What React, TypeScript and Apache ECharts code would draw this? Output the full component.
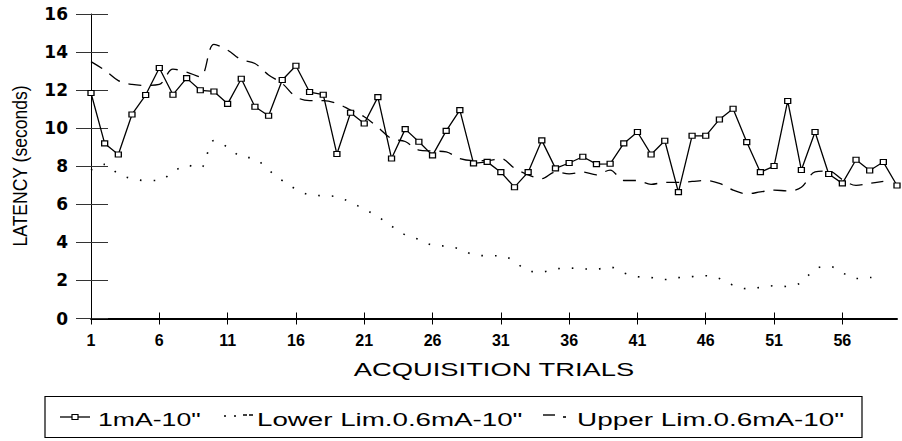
import React, { useEffect, useRef } from "react";
import * as echarts from "echarts";

// Categories: acquisition trial numbers
const trials: string[] = Array.from({ length: 60 }, (_, i) => String(i + 1));

// Series values (latency in seconds)
const latency1mA: number[] = [
  11.85, 9.2, 8.62, 10.72, 11.74, 13.16, 11.76, 12.63, 11.99, 11.93,
  11.28, 12.6, 11.13, 10.65, 12.53, 13.28, 11.9, 11.76, 8.64, 10.81,
  10.25, 11.63, 8.41, 9.95, 9.29, 8.57, 9.86, 10.95, 8.15, 8.23,
  7.69, 6.9, 7.69, 9.36, 7.89, 8.17, 8.5, 8.11, 8.13, 9.2,
  9.8, 8.62, 9.34, 6.64, 9.6, 9.6, 10.46, 11.02, 9.27, 7.69,
  8.01, 11.43, 7.8, 9.8, 7.59, 7.1, 8.34, 7.78, 8.22, 6.99,
];

const lowerLim: number[] = [
  7.8, 8.1, 7.6, 7.35, 7.25, 7.25, 7.7, 8.05, 7.9, 9.35,
  9.0, 8.5, 8.4, 7.8, 7.25, 6.8, 6.5, 6.45, 6.4, 6.1,
  5.75, 5.35, 4.85, 4.4, 4.15, 3.85, 3.8, 3.65, 3.35, 3.3,
  3.3, 3.0, 2.5, 2.45, 2.6, 2.65, 2.6, 2.6, 2.7, 2.4,
  2.2, 2.15, 2.05, 2.15, 2.2, 2.25, 2.1, 1.75, 1.57, 1.63,
  1.72, 1.68, 1.9, 2.6, 2.75, 2.4, 2.1, 2.15, 2.2,
];

const upperLim: number[] = [
  13.5, 13.05, 12.5, 12.3, 12.25, 12.3, 13.1, 12.95, 12.7, 14.4,
  14.1, 13.6, 13.4, 12.8, 12.35, 11.65, 11.45, 11.45, 11.3, 10.95,
  10.6, 10.05, 9.45, 9.3, 8.85, 8.8, 8.75, 8.4, 8.3, 8.3,
  8.4, 7.9, 7.55, 7.35, 7.7, 7.6, 7.7, 7.55, 7.8, 7.25,
  7.25, 7.05, 7.15, 7.15, 7.2, 7.25, 7.1, 6.75, 6.55, 6.65,
  6.75, 6.7, 6.9, 7.7, 7.75, 7.3, 7.0, 7.1, 7.2,
];

const seriesNames: string[] = ['1mA-10"', 'Lower Lim.0.6mA-10"', 'Upper Lim.0.6mA-10"'];
const xTitle = "ACQUISITION TRIALS";
const yTitle = "LATENCY (seconds)";
const yMin = 0;
const yMax = 16;
const yStep = 2;

const FONT = '"Liberation Sans", Arial, sans-serif';

function txt(text: string, x: number, y: number, size: number, scaleX: number, align: string, extra: any = {}) {
  return {
    type: "text",
    x,
    y,
    scaleX,
    ...extra,
    style: {
      text,
      fill: "#000",
      fontSize: size,
      fontFamily: FONT,
      textAlign: align,
      textVerticalAlign: "middle",
      align,
      verticalAlign: "middle",
    },
  };
}

export default function App() {
  const ref = useRef<HTMLDivElement>(null);

  useEffect(() => {
    if (!ref.current) return;
    const chart = echarts.init(ref.current, undefined, { renderer: "svg" });

    const option: any = {
      animation: false,
      backgroundColor: "#ffffff",
      grid: { left: 91, right: 5, top: 14, bottom: 122.5, containLabel: false },
      xAxis: [
        {
          type: "category",
          data: trials,
          boundaryGap: false,
          position: "bottom",
          axisLine: { show: true, onZero: false, lineStyle: { color: "#000", width: 2 } },
          axisTick: { show: true, interval: 4, length: 6, inside: false, lineStyle: { color: "#000", width: 1 } },
          axisLabel: {
            interval: 4,
            margin: 14,
            color: "#000",
            fontFamily: FONT,
            fontWeight: "bold",
            fontSize: 16,
          },
          splitLine: { show: false },
        },
        {
          type: "category",
          data: trials,
          boundaryGap: false,
          position: "bottom",
          offset: 0,
          axisLine: { show: false },
          axisTick: { show: true, interval: 4, length: 6, inside: true, lineStyle: { color: "#000", width: 1 } },
          axisLabel: { show: false },
          splitLine: { show: false },
        },
      ],
      yAxis: [
        {
          type: "value",
          min: yMin,
          max: yMax,
          interval: yStep,
          position: "left",
          axisLine: { show: true, onZero: false, lineStyle: { color: "#000", width: 1 } },
          axisTick: { show: true, length: 15, lineStyle: { color: "#333", width: 1 } },
          axisLabel: {
            margin: 23,
            color: "#000",
            fontFamily: '"DejaVu Sans", sans-serif',
            fontWeight: "bold",
            fontSize: 17,
          },
          splitLine: { show: false },
        },
        {
          type: "value",
          min: yMin,
          max: yMax,
          interval: yStep,
          position: "left",
          offset: 0,
          axisLine: { show: false },
          axisTick: { show: true, inside: true, length: 17, lineStyle: { color: "#333", width: 1 } },
          axisLabel: { show: false },
          splitLine: { show: false },
        },
      ],
      series: [
        {
          name: seriesNames[1],
          type: "line",
          data: lowerLim,
          xAxisIndex: 0,
          yAxisIndex: 0,
          smooth: 0.35,
          symbol: "none",
          showSymbol: false,
          lineStyle: { color: "#000", width: 1.6, type: [1.6, 12] },
          z: 2,
        },
        {
          name: seriesNames[2],
          type: "line",
          data: upperLim,
          xAxisIndex: 0,
          yAxisIndex: 0,
          smooth: 0.35,
          symbol: "none",
          showSymbol: false,
          lineStyle: { color: "#000", width: 1.3, type: [13, 9] },
          z: 2,
        },
        {
          name: seriesNames[0],
          type: "line",
          data: latency1mA,
          xAxisIndex: 0,
          yAxisIndex: 0,
          symbol: "rect",
          symbolSize: [6, 5],
          showSymbol: true,
          lineStyle: { color: "#000", width: 1.3 },
          itemStyle: { color: "#fff", borderColor: "#000", borderWidth: 1.2 },
          z: 3,
        },
      ],
      graphic: [
        txt(xTitle, 494, 370, 18, 1.52, "center"),
        txt(yTitle, 19, 166, 21, 0.835, "center", { rotation: Math.PI / 2 }),
        {
          type: "rect",
          shape: { x: 45, y: 396.5, width: 817, height: 41 },
          style: { fill: "none", stroke: "#000", lineWidth: 1.2 },
        },
        // legend item 1: solid line with square marker
        { type: "line", shape: { x1: 60, y1: 417, x2: 90, y2: 417 }, style: { stroke: "#000", lineWidth: 1.3 } },
        { type: "rect", shape: { x: 72, y: 414.5, width: 6, height: 5 }, style: { fill: "#fff", stroke: "#000", lineWidth: 1.2 } },
        txt(seriesNames[0], 98, 420, 18, 1.48, "left"),
        // legend item 2: dotted
        { type: "line", shape: { x1: 224, y1: 416, x2: 226, y2: 416 }, style: { stroke: "#000", lineWidth: 1.6 } },
        { type: "line", shape: { x1: 234, y1: 416, x2: 236, y2: 416 }, style: { stroke: "#000", lineWidth: 1.6 } },
        { type: "line", shape: { x1: 243, y1: 415, x2: 253, y2: 415 }, style: { stroke: "#000", lineWidth: 1.4, lineDash: [4, 2] } },
        txt(seriesNames[1], 257, 420, 18, 1.54, "left"),
        // legend item 3: dashed
        { type: "line", shape: { x1: 543, y1: 415, x2: 555, y2: 415 }, style: { stroke: "#000", lineWidth: 1.4 } },
        { type: "line", shape: { x1: 563, y1: 417, x2: 566, y2: 417 }, style: { stroke: "#000", lineWidth: 1.6 } },
        txt(seriesNames[2], 577, 420, 18, 1.55, "left"),
      ],
    };

    chart.setOption(option);
    return () => {
      chart.dispose();
    };
  }, []);

  return (
    <div
      ref={ref}
      style={{ position: "fixed", left: 0, top: 0, width: 902, height: 441, background: "#fff" }}
    />
  );
}
